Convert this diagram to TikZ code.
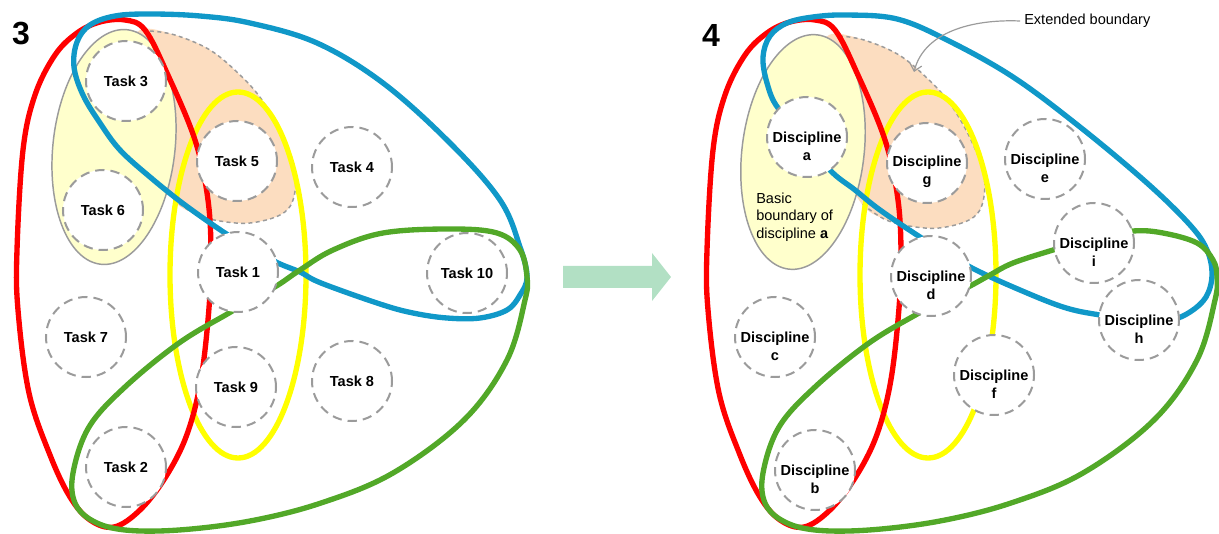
\documentclass[tikz,border=0pt]{standalone}
\usepackage{fontspec}
\setmainfont{Liberation Sans}
\usetikzlibrary{calc,arrows.meta}

\definecolor{loopred}{RGB}{255,0,0}
\definecolor{loopblue}{RGB}{16,152,200}
\definecolor{loopyellow}{RGB}{255,255,0}
\definecolor{loopgreen}{RGB}{82,168,40}
\definecolor{basicfill}{RGB}{255,255,204}
\definecolor{extfill}{RGB}{252,221,192}
\definecolor{ringgray}{RGB}{155,155,155}
\definecolor{arrowmint}{RGB}{178,224,196}

% basic (yellow) and extended (peach) boundary of the first discipline
\newcommand{\drawboundaries}[1]{%
  \fill[ext] plot[smooth cycle, tension=0.6] coordinates {(140,30) (175,35) (210,50) (240,75) (262,100) (282,135) (295,170) (293,200) (280,215) (250,223) (220,221) (195,214) (172,198) (150,150) (132,60)};
  \draw[extline] plot[smooth, tension=0.6] coordinates {(150,31) (175,35) (210,50) (240,75) (262,100) (282,135) (295,170) (293,200) (280,215) (250,223) (220,221) (195,214) (172,198)};
  \filldraw[basic, rotate around={#1:(114,147)}] (114,147) ellipse [x radius=61, y radius=118];
}

\begin{document}
\begin{tikzpicture}[x=0.75pt, y=-0.75pt,
  loop/.style={line width=4pt, line join=round},
  task/.style={circle, draw=ringgray, line width=1.5pt, dash pattern=on 7pt off 4.5pt,
    fill=white, minimum size=60pt, inner sep=0pt, font=\bfseries\fontsize{10.9}{13}\selectfont},
  dlabel/.style={align=center, inner sep=0pt, font=\bfseries\fontsize{10.9}{13.5}\selectfont},
  basic/.style={fill=basicfill, draw=ringgray, line width=1.1pt},
  ext/.style={fill=extfill},
  extline/.style={draw=ringgray, line width=1.1pt, dash pattern=on 3pt off 2.5pt},
  panelnum/.style={font=\bfseries\fontsize{24}{24}\selectfont, inner sep=0pt},
  note/.style={font=\fontsize{10.9}{13.1}\selectfont, inner sep=0pt},
]
\useasboundingbox (0,0) rectangle (1219,534);

% ---------------- panel 3 ----------------
\drawboundaries{-6.5}

\draw[loop, loopyellow] (238,275) ellipse [x radius=68, y radius=183];
\draw[loop, loopred] plot[smooth cycle, tension=0.6] coordinates {(125,20) (145,30) (167,73) (195,140) (208,200) (211,260) (208,320) (200,385) (186,437) (165,478) (140,510) (114,527) (90,520) (70,497) (50,455) (29,393) (18,310) (17,250) (23,150) (35,95) (55,55) (77,33) (100,22)};
\draw[loop, loopblue] plot[smooth cycle, tension=0.6] coordinates {(228,235) (185,205) (150,177) (120,150) (100,123) (83,95) (74,67) (77,42) (90,25) (115,16) (150,14) (200,16) (250,23) (317,43) (383,83) (450,143) (500,200) (520,247) (527,277) (520,295) (507,310) (480,318) (447,318) (413,313) (380,304) (321,283) (300,272) (278,263) (253,249)};
\draw[loop, loopgreen] plot[smooth cycle, tension=0.6] coordinates {(229,313) (179,343) (125,387) (89,427) (73,473) (75,503) (93,521) (125,530) (179,530) (250,521) (321,503) (393,473) (464,420) (507,360) (525,300) (527,277) (520,250) (497,233) (450,229) (383,233) (333,250) (300,270) (278,285) (253,299)};

\node[task] (t3) at (126,81) {Task 3};
\node[task] (t5) at (237,161) {Task 5};
\node[task] (t6) at (103,210) {Task 6};
\node[task] (t4) at (352,167) {Task 4};
\node[task] (t1) at (238,272) {Task 1};
\node[task] (t10) at (467,273) {Task 10};
\node[task] (t7) at (86,337) {Task 7};
\node[task] (t9) at (236,387) {Task 9};
\node[task] (t8) at (352,381) {Task 8};
\node[task] (t2) at (126,467) {Task 2};

\node[panelnum] (n3) at (21,34) {3};

% ---------------- transition arrow ----------------
\fill[arrowmint] (563,266) -- (652,266) -- (652,253) -- (671,277) -- (652,301) -- (652,288) -- (563,288) -- cycle;

% ---------------- panel 4 ----------------
\begin{scope}[shift={(689,5)}]
  \drawboundaries{-7}
\end{scope}
\begin{scope}[shift={(690,0)}]
  \draw[loop, loopyellow] (238,275) ellipse [x radius=68, y radius=183];
  \draw[loop, loopred] plot[smooth cycle, tension=0.6] coordinates {(125,20) (145,30) (167,73) (195,140) (208,200) (211,260) (208,320) (200,385) (186,437) (165,478) (140,510) (114,527) (90,520) (70,497) (50,455) (29,393) (18,310) (17,250) (23,150) (35,95) (55,55) (77,33) (100,22)};
\end{scope}
\draw[loop, loopblue] plot[smooth cycle, tension=0.6] coordinates {(807,137) (778,108) (767,83) (763,57) (770,36) (787,23) (813,17) (847,15) (897,19) (947,40) (1013,77) (1080,127) (1147,183) (1190,225) (1207,250) (1212,275) (1206,297) (1190,312) (1170,320) (1139,320) (1100,315) (1063,307) (1013,287) (972,268) (945,252) (920,237) (880,210) (855,190) (830,170)};
\draw[loop, loopgreen] plot[smooth cycle, tension=0.6] coordinates {(919,313) (869,343) (815,387) (779,427) (763,473) (765,503) (783,521) (815,530) (869,530) (940,521) (1011,503) (1083,473) (1154,420) (1197,360) (1215,300) (1217,277) (1213,260) (1197,243) (1163,233) (1133,231) (1094,238) (1053,250) (1013,263) (990,275) (972,285) (945,299)};

\node[task] (da) at (807,137) {};
\node[task] (dg) at (927,163) {};
\node[task] (de) at (1045,159) {};
\node[task] (di) at (1094,243) {};
\node[task] (dh) at (1139,320) {};
\node[task] (dd) at (931,276) {};
\node[task] (dc) at (775,337) {};
\node[task] (df) at (994,375) {};
\node[task] (db) at (815,470) {};

\node[dlabel] (da-t) at ($(da)+(0,9)$) {Discipline\\a};
\node[dlabel] (dg-t) at ($(dg)+(0,9)$) {Discipline\\g};
\node[dlabel] (de-t) at ($(de)+(0,9)$) {Discipline\\e};
\node[dlabel] (di-t) at ($(di)+(0,9)$) {Discipline\\i};
\node[dlabel] (dh-t) at ($(dh)+(0,9)$) {Discipline\\h};
\node[dlabel] (dd-t) at ($(dd)+(0,9)$) {Discipline\\d};
\node[dlabel] (dc-t) at ($(dc)+(0,9)$) {Discipline\\c};
\node[dlabel] (df-t) at ($(df)+(0,9)$) {Discipline\\f};
\node[dlabel] (db-t) at ($(db)+(0,9)$) {Discipline\\b};

\node[note, anchor=west, align=left] (basiclbl) at (756,217) {Basic\\boundary of\\discipline \textbf{a}};

\node[note, anchor=west, inner sep=3pt] (extlbl) at (1020,21) {Extended boundary};
\coordinate (exttip) at (914,72);
\draw[draw=ringgray, line width=0.9pt, -{Straight Barb[length=5pt,width=9pt]}]
  (extlbl.west) .. controls (972,19) and (924,32) .. (exttip);

\node[panelnum] (n4) at (711,35) {4};
\end{tikzpicture}
\end{document}
